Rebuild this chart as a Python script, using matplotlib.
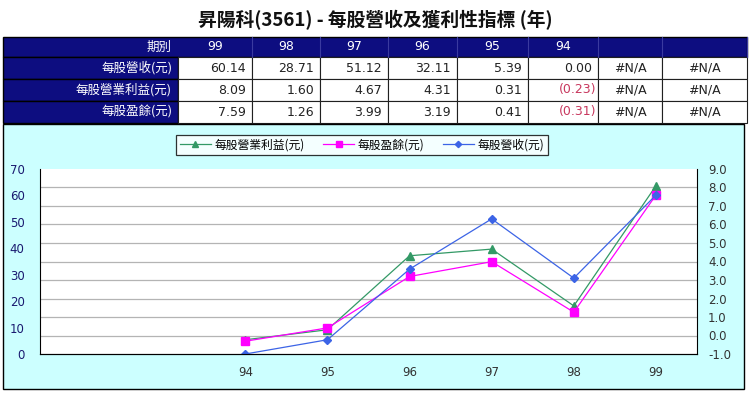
import matplotlib
matplotlib.use("Agg")
import matplotlib.pyplot as plt
from matplotlib.patches import Rectangle
import numpy as np

# ---------------- data ----------------
title = "昇陽科(3561) - 每股營收及獲利性指標 (年)"
period_label = "期別"
years = ["99", "98", "97", "96", "95", "94"]
row_labels = ["每股營收(元)", "每股營業利益(元)", "每股盈餘(元)"]
revenue = [60.14, 28.71, 51.12, 32.11, 5.39, 0.00]
op_profit = [8.09, 1.60, 4.67, 4.31, 0.31, -0.23]
eps = [7.59, 1.26, 3.99, 3.19, 0.41, -0.31]
na_count = 2
na_text = "#N/A"
left_ticks = [0, 10, 20, 30, 40, 50, 60, 70]
right_ticks = [-1, 0, 1, 2, 3, 4, 5, 6, 7, 8, 9]

CJK = ["Noto Sans CJK TC", "DejaVu Sans"]
NUM = ["DejaVu Sans"]

W, H = 749, 396
fig = plt.figure(figsize=(W / 100, H / 100), dpi=100)
fig.patch.set_facecolor("white")

bg = fig.add_axes([0, 0, 1, 1])
bg.set_xlim(0, W)
bg.set_ylim(H, 0)
bg.axis("off")

NAVY = "#0d0d80"
# title
bg.text(375, 20, title, ha="center", va="center", fontsize=13.5, fontweight="bold",
        family=CJK, color="#111111")

# table layout
col_edges = [3, 178, 252, 320, 388, 457, 528, 598, 662, 747]
row_edges = [37, 57, 79, 101, 123]

# header row
bg.add_patch(Rectangle((col_edges[0], row_edges[0]), col_edges[-1] - col_edges[0],
                       row_edges[1] - row_edges[0], facecolor=NAVY, edgecolor="black", lw=1))
bg.text(col_edges[1] - 6, (row_edges[0] + row_edges[1]) / 2, period_label, ha="right",
        va="center", color="white", fontsize=9, family=CJK)
header_vals = years + [""] * na_count
for i, hv in enumerate(header_vals):
    x0, x1 = col_edges[i + 1], col_edges[i + 2]
    bg.plot([x1, x1], [row_edges[0], row_edges[1]], color="#3a3aa0", lw=0.8)
    bg.text((x0 + x1) / 2, (row_edges[0] + row_edges[1]) / 2, hv, ha="center",
            va="center", color="white", fontsize=9, family=NUM)

series_rows = [revenue, op_profit, eps]
for r, (lab, vals) in enumerate(zip(row_labels, series_rows)):
    y0, y1 = row_edges[r + 1], row_edges[r + 2]
    yc = (y0 + y1) / 2
    bg.add_patch(Rectangle((col_edges[0], y0), col_edges[1] - col_edges[0], y1 - y0,
                           facecolor=NAVY, edgecolor="black", lw=1))
    bg.text(col_edges[1] - 6, yc, lab, ha="right", va="center", color="white",
            fontsize=9, family=CJK)
    cells = list(vals) + [None] * na_count
    for c, v in enumerate(cells):
        x0, x1 = col_edges[c + 1], col_edges[c + 2]
        bg.add_patch(Rectangle((x0, y0), x1 - x0, y1 - y0, facecolor="white",
                               edgecolor="#202020", lw=0.8))
        if v is None:
            bg.text((x0 + x1) / 2, yc, na_text, ha="center", va="center",
                    color="#222222", fontsize=9, family=NUM)
        elif v < 0:
            bg.text(x1 - 2, yc, f"({abs(v):.2f})", ha="right", va="center",
                    color="#c8385e", fontsize=9, family=NUM)
        else:
            bg.text(x1 - 6, yc, f"{v:.2f}", ha="right", va="center",
                    color="#222222", fontsize=9, family=NUM)

# chart area background
bg.add_patch(Rectangle((3, 124), 741, 265, facecolor="#ccffff", edgecolor="black", lw=1))

# ---------------- chart ----------------
px0, px1, py0, py1 = 40, 697, 169, 354
ax = fig.add_axes([px0 / W, (H - py1) / H, (px1 - px0) / W, (py1 - py0) / H])
ax2 = ax.twinx()

cats = [""] * na_count + years[::-1]
x = np.arange(len(cats))
nan_pad = [np.nan] * na_count
rev_s = nan_pad + revenue[::-1]
op_s = nan_pad + op_profit[::-1]
eps_s = nan_pad + eps[::-1]

ax2.set_zorder(1)
ax.set_zorder(2)
ax.patch.set_visible(False)
ax2.patch.set_facecolor("white")
ax2.patch.set_visible(True)

GREEN = "#339966"
MAG = "#ff00ff"
BLUE = "#3c64e6"

l_op, = ax2.plot(x, op_s, color=GREEN, lw=0.9, marker="^", ms=6, label="每股營業利益(元)")
l_eps, = ax2.plot(x, eps_s, color=MAG, lw=0.9, marker="s", ms=6, label="每股盈餘(元)")
l_rev, = ax.plot(x, rev_s, color=BLUE, lw=0.9, marker="D", ms=4, label="每股營收(元)")

ax.set_xlim(-0.5, len(cats) - 0.5)
ax.set_ylim(left_ticks[0], left_ticks[-1])
ax.set_yticks(left_ticks)
ax.set_xticks(x)
ax.set_xticklabels(cats)
ax2.set_ylim(right_ticks[0], right_ticks[-1])
ax2.set_yticks(right_ticks)
ax2.set_yticklabels([f"{t:.1f}" for t in right_ticks])

ax2.grid(axis="y", color="#b4b4b4", lw=0.9)
gls = ax2.get_ygridlines()
gls[0].set_visible(False)
gls[-1].set_visible(False)
ax2.set_axisbelow(True)

for a in (ax, ax2):
    a.spines["top"].set_visible(False)
    a.spines["left"].set_color("black")
    a.spines["bottom"].set_color("black")
    a.spines["right"].set_color("black")
ax2.spines["left"].set_visible(False)
ax.spines["right"].set_visible(False)

ax.tick_params(axis="y", length=0, pad=11, labelsize=8.5, labelcolor="#1a1a70")
ax.tick_params(axis="x", length=0, pad=9, labelsize=8.5, labelcolor="#333333")
ax2.tick_params(axis="y", length=0, pad=8, labelsize=8.5, labelcolor="#333333")
for t in ax.get_yticklabels() + ax.get_xticklabels() + ax2.get_yticklabels():
    t.set_family(NUM)

leg = fig.legend(handles=[l_op, l_eps, l_rev], loc="center",
                 bbox_to_anchor=(362 / W, 1 - 145 / H), ncol=3, frameon=True,
                 fancybox=False, prop={"family": CJK, "size": 8.5},
                 handlelength=2.6, columnspacing=1.6, handletextpad=0.3,
                 borderpad=0.3, markerscale=0.8)
leg.get_frame().set_edgecolor("black")
leg.get_frame().set_linewidth(0.9)

fig.savefig("out.png", dpi=100)
